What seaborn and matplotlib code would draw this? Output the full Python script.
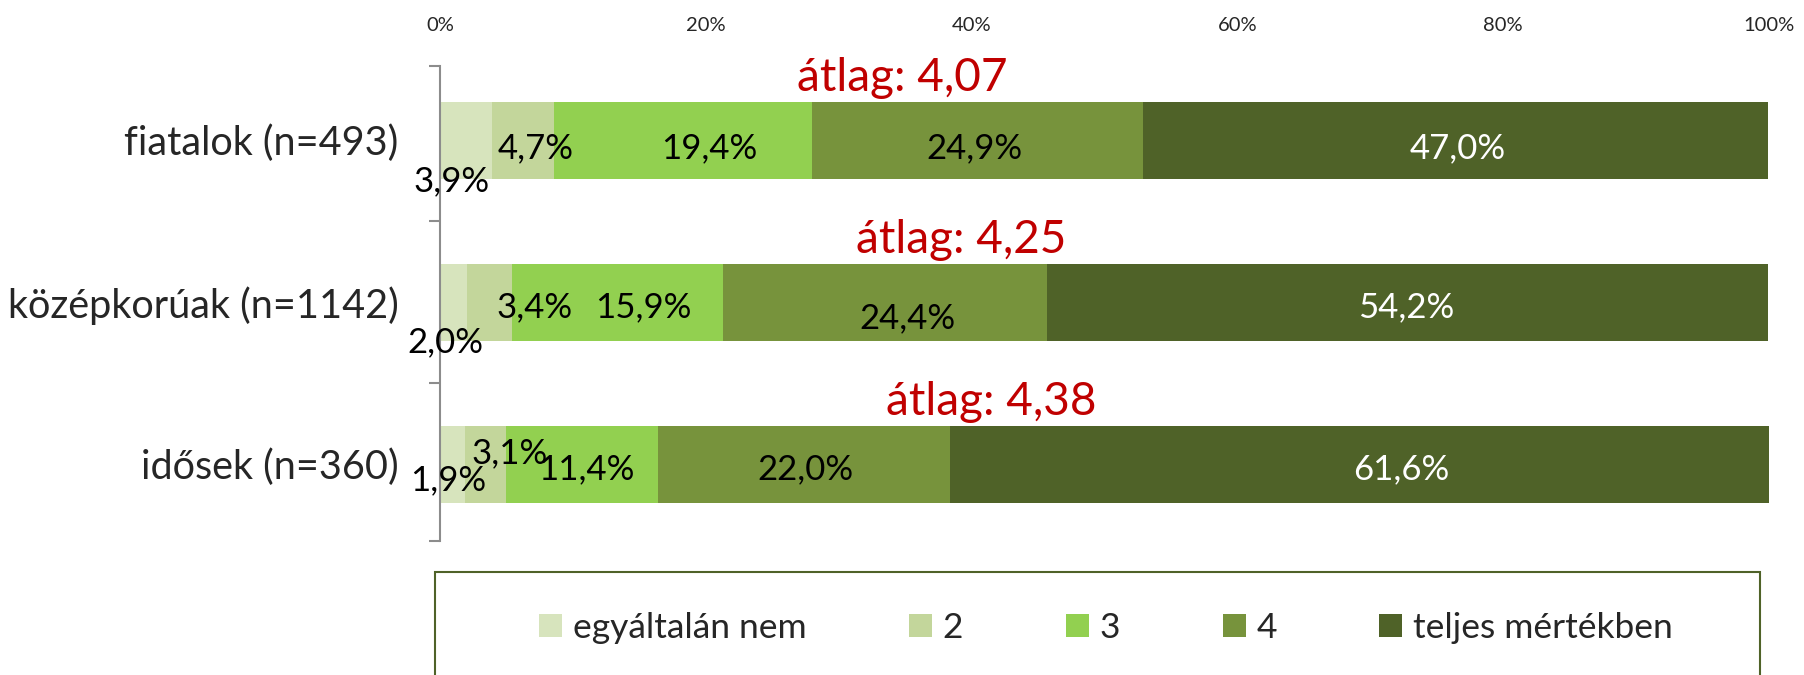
import numpy as np
import pandas as pd
import matplotlib
matplotlib.use("Agg")
import matplotlib.pyplot as plt
from matplotlib.patches import Patch, Rectangle
import seaborn as sns

# Survey answers by age group (percent of respondents, 1 = "egyáltalán nem" .. 5 = "teljes mértékben")
groups = ["fiatalok (n=493)", "középkorúak (n=1142)", "idősek (n=360)"]
levels = ["egyáltalán nem", "2", "3", "4", "teljes mértékben"]
level_1 = [3.9, 2.0, 1.9]
level_2 = [4.7, 3.4, 3.1]
level_3 = [19.4, 15.9, 11.4]
level_4 = [24.9, 24.4, 22.0]
level_5 = [47.0, 54.2, 61.6]
means = [4.07, 4.25, 4.38]
tick_values = [0, 20, 40, 60, 80, 100]

colors = ["#D7E4BD", "#C3D69B", "#92D050", "#77933C", "#4F6228"]
label_colors = ["black", "black", "black", "black", "white"]

# label nudges in points (dx, dy; dy positive = downward), per group and level
label_nudge = [
    [(-10, 30), (9, 6), (19, 6), (-2, 6), (2, 6)],
    [(-6, 29), (33, 4), (19, 4), (16, 12), (-1, 4)],
    [(-3, 12), (17, -8), (3, 4), (1, 4), (30, 4)],
]
# x position (in % units) of the mean annotation above each bar
mean_x = [34.8, 39.2, 41.5]

sns.set_theme(style="white")
plt.rcParams["font.family"] = ["Lato", "DejaVu Sans"]

values = np.array([level_1, level_2, level_3, level_4, level_5])  # (level, group)
cum = np.cumsum(values, axis=0)
starts = cum - values

fig = plt.figure(figsize=(18.04, 6.75), dpi=100)
ax = fig.add_axes([440 / 1804, 1 - 541 / 675, (1769 - 440) / 1804, (541 - 66) / 675])

# stacked bars: draw cumulative totals from the outermost level inwards
for k in range(len(levels) - 1, -1, -1):
    df = pd.DataFrame({"group": groups, "value": cum[k]})
    sns.barplot(data=df, x="value", y="group", orient="h", color=colors[k],
                saturation=1, width=0.475, linewidth=0, edgecolor="none", ax=ax)

ax.set_xlim(0, 100)
ax.set_ylim(2.475, -0.457)

# segment value labels
for g in range(len(groups)):
    for k in range(len(levels)):
        v = values[k, g]
        xc = starts[k, g] + v / 2
        dx, dy = label_nudge[g][k]
        ax.annotate(f"{v:.1f}%".replace(".", ","), xy=(xc, g), xytext=(dx, -dy),
                    textcoords="offset points", ha="center", va="center",
                    fontsize=25, color=label_colors[k])

# mean annotations
for g, m in enumerate(means):
    ax.text(mean_x[g], g - 0.38, f"átlag: {m:.2f}".replace(".", ","),
            ha="center", va="center", fontsize=33, color="#C00000")

# axes styling
ax.xaxis.tick_top()
ax.set_xticks(tick_values)
ax.set_xticklabels([f"{t}%" for t in tick_values], fontsize=14.5)
ax.tick_params(axis="x", length=0, pad=23)
ax.set_xlabel("")
ax.set_ylabel("")
ax.set_yticks(range(len(groups)))
ax.set_yticklabels(groups, fontsize=28.5)
ax.tick_params(axis="y", which="major", length=0, pad=30)
ax.set_yticks([-0.457, 0.5, 1.5, 2.475], minor=True)
ax.tick_params(axis="y", which="minor", left=True, length=8, width=1.5,
               color="#8C8C8C", direction="out")
for side in ["top", "right", "bottom"]:
    ax.spines[side].set_visible(False)
ax.spines["left"].set_color("#8C8C8C")
ax.spines["left"].set_linewidth(1.5)

# legend frame and entries
fig.patches.append(Rectangle((435 / 1804, -0.2), (1760 - 435) / 1804, 1 - 572 / 675 + 0.2,
                             transform=fig.transFigure, fill=False,
                             edgecolor="#4F6228", linewidth=1.5))
handles = [Patch(facecolor=c, edgecolor="none", label=l) for c, l in zip(colors, levels)]
fig.legend(handles=handles, loc="center", bbox_to_anchor=(0.613, 0.0696), ncol=5,
           frameon=False, fontsize=25.5, handlelength=0.65, handleheight=0.65,
           handletextpad=0.3, columnspacing=2.9)

fig.savefig("out.png", dpi=100)
